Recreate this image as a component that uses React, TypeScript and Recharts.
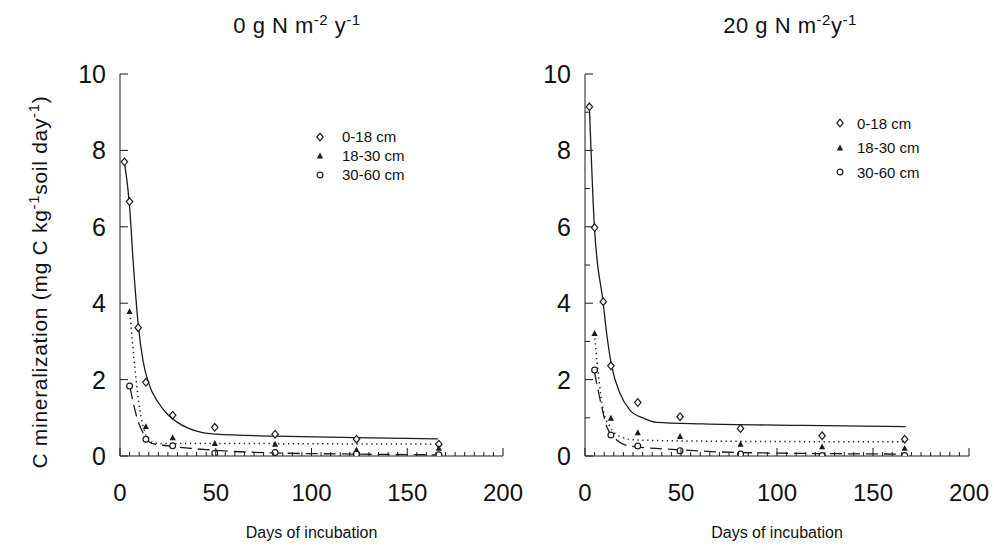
import React from "react";
import { ComposedChart, Line, Scatter, XAxis, YAxis, Legend } from "recharts";

const FONT = "'Liberation Sans', Arial, Helvetica, sans-serif";
const INK = "#1b1b1b";

// depth classes (legend order)
const depthNames = ["0-18 cm", "18-30 cm", "30-60 cm"];

// sampling days (diamonds have two extra early samples)
const daysTop = [2.3, 5, 9.5, 13.5, 27.5, 49.5, 81, 123.5, 166.5];
const daysDeep = [5, 13.5, 27.5, 49.5, 81, 123.5, 166.5];

// 0 g N m-2 y-1
const n0Top = [7.7, 6.66, 3.36, 1.93, 1.07, 0.75, 0.57, 0.44, 0.31];
const n0Mid = [3.78, 0.77, 0.48, 0.33, 0.31, 0.16, 0.2];
const n0Low = [1.83, 0.44, 0.27, 0.07, 0.09, 0.05, 0.03];

// 20 g N m-2 y-1
const n20Top = [9.14, 5.98, 4.04, 2.36, 1.4, 1.03, 0.72, 0.53, 0.44];
const n20Mid = [3.21, 0.99, 0.61, 0.51, 0.31, 0.24, 0.2];
const n20Low = [2.25, 0.55, 0.26, 0.14, 0.05, 0.01, 0.01];

// fitted curves as [day, value]
const n0TopFit = [[2.3, 7.7], [4.9, 6.6], [7, 5.0], [9.6, 3.4], [12, 2.5], [15, 1.9], [20, 1.4], [25, 1.08], [30, 0.88], [40, 0.65], [50, 0.57], [81, 0.52], [123, 0.48], [166, 0.45]];
const n0MidFit = [[5.2, 3.75], [7.8, 2.3], [10.4, 1.2], [13, 0.62], [15.7, 0.38], [20, 0.33], [50, 0.33], [100, 0.32], [166, 0.31]];
const n0LowFit = [[5.2, 1.8], [8.7, 1.03], [12.2, 0.59], [16.5, 0.33], [26, 0.26], [49, 0.15], [81, 0.08], [123, 0.05], [166, 0.03]];

const n20TopFit = [[2.3, 9.14], [4.9, 6.0], [9.5, 4.0], [11.3, 3.2], [13.9, 2.35], [18.2, 1.64], [23.4, 1.2], [30.4, 0.99], [37.3, 0.88], [61.5, 0.84], [113.7, 0.8], [167, 0.77]];
const n20MidFit = [[4.9, 3.21], [6.9, 2.16], [9.5, 1.2], [13, 0.77], [18.2, 0.51], [27, 0.42], [60, 0.39], [167, 0.37]];
const n20LowFit = [[4.9, 2.2], [8.7, 1.29], [11.3, 0.77], [16.5, 0.42], [23.4, 0.26], [50, 0.16], [81, 0.09], [167, 0.05]];

const xLabels = [0, 50, 100, 150, 200];
const yLabels = [0, 2, 4, 6, 8, 10];
const xTicks = Array.from({ length: 41 }, (_, i) => i * 5);
const yTicksFine = Array.from({ length: 11 }, (_, i) => i);

const toPts = (days: number[], vals: number[]) => vals.map((v, i) => ({ x: days[i], y: v }));
const fitPts = (f: number[][]) => f.map(([x, y]) => ({ x, y }));

const lineStyles = [
  { dash: undefined, width: 1.3 },
  { dash: "1.3 3.6", width: 1.5 },
  { dash: "12 6", width: 1.3 },
];

const Marker = ({ kind, cx, cy }: { kind: number; cx: number; cy: number }) => {
  if (kind === 0)
    return <path d={`M${cx},${cy - 3.8}L${cx + 3.2},${cy}L${cx},${cy + 3.8}L${cx - 3.2},${cy}Z`} fill="#fff" stroke={INK} strokeWidth={1.2} />;
  if (kind === 1)
    return <path d={`M${cx},${cy - 3.4}L${cx + 3.1},${cy + 2.5}L${cx - 3.1},${cy + 2.5}Z`} fill={INK} />;
  return <circle cx={cx} cy={cy} r={2.9} fill="#fff" stroke={INK} strokeWidth={1.2} />;
};

const BottomTick = (p: any) => {
  const major = xLabels.includes(p.payload.value);
  return (
    <g>
      <line x1={p.x} x2={p.x} y1={p.y} y2={p.y - (major ? 8 : 4)} stroke={INK} />
      {major && (
        <text x={p.x} y={p.y + 36} textAnchor="middle" dominantBaseline="central" fontSize={24} fill="#111" fontFamily={FONT}>
          {p.payload.value}
        </text>
      )}
    </g>
  );
};

const TopTick = (p: any) => {
  const major = xLabels.includes(p.payload.value);
  return <line x1={p.x} x2={p.x} y1={p.y} y2={p.y + (major ? 8 : 4)} stroke={INK} />;
};

const LeftTick = (p: any) => {
  const major = yLabels.includes(p.payload.value);
  return (
    <g>
      <line x1={p.x} x2={p.x + (major ? 8 : 5)} y1={p.y} y2={p.y} stroke={INK} />
      {major && (
        <text x={p.x - 14} y={p.y} textAnchor="end" dominantBaseline="central" fontSize={25} fill="#111" fontFamily={FONT}>
          {p.payload.value}
        </text>
      )}
    </g>
  );
};

const RightTick = (p: any) => {
  const major = yLabels.includes(p.payload.value);
  return <line x1={p.x} x2={p.x - (major ? 8 : 5)} y1={p.y} y2={p.y} stroke={INK} />;
};

const YLabel = () => (
  <text transform="translate(47,282) rotate(-90)" textAnchor="middle" fontSize={21} letterSpacing={0.7} fill="#111" fontFamily={FONT}>
    C mineralization (mg C kg
    <tspan dy={-8} fontSize={15}>-1</tspan>
    <tspan dy={8}>soil day</tspan>
    <tspan dy={-8} fontSize={15}>-1</tspan>
    <tspan dy={8}>)</tspan>
  </text>
);

const DepthLegend = ({ rowH, textGap }: { rowH: number; textGap: number }) => (
  <div style={{ fontFamily: FONT, fontSize: 15, color: "#111" }}>
    {depthNames.map((name, i) => (
      <div key={name} style={{ height: rowH, display: "flex", alignItems: "center", whiteSpace: "nowrap" }}>
        <svg width={12} height={12} style={{ flex: "none" }}>
          <Marker kind={i} cx={6} cy={6} />
        </svg>
        <span style={{ marginLeft: textGap - 6 }}>{name}</span>
      </div>
    ))}
  </div>
);

type PanelProps = {
  left: number;
  width: number;
  marginRight: number;
  series: { x: number; y: number }[][];
  fits: { x: number; y: number }[][];
  yTicks: number[];
  rightTicks: number[];
  legendAt: { left: number; top: number; rowH: number; textGap: number };
  withYLabel: boolean;
};

const Panel = ({ left, width, marginRight, series, fits, yTicks, rightTicks, legendAt, withYLabel }: PanelProps) => (
  <div style={{ position: "absolute", left, top: 0 }}>
    <ComposedChart width={width} height={550} margin={{ top: 74, right: marginRight, bottom: 0, left: 0 }}>
      <XAxis
        dataKey="x"
        type="number"
        domain={[0, 200]}
        allowDataOverflow
        ticks={xTicks}
        interval={0}
        height={94}
        tickSize={0}
        tickMargin={0}
        tickLine={false}
        tick={BottomTick}
        axisLine={{ stroke: INK }}
        label={{ value: "Days of incubation", position: "insideBottom", offset: 12, fontSize: 16, fill: "#111", fontFamily: FONT }}
      />
      <XAxis
        xAxisId="top"
        orientation="top"
        type="number"
        domain={[0, 200]}
        allowDataOverflow
        ticks={xTicks}
        interval={0}
        height={0}
        tickSize={0}
        tickMargin={0}
        tickLine={false}
        tick={TopTick}
        axisLine={{ stroke: INK }}
      />
      <YAxis
        type="number"
        domain={[0, 10]}
        allowDataOverflow
        ticks={yTicks}
        interval={0}
        width={120}
        tickSize={0}
        tickMargin={0}
        tickLine={false}
        tick={LeftTick}
        axisLine={{ stroke: INK }}
        label={withYLabel ? { content: YLabel } : undefined}
      />
      <YAxis
        yAxisId="r"
        orientation="right"
        type="number"
        domain={[0, 10]}
        allowDataOverflow
        ticks={rightTicks}
        interval={0}
        width={0}
        tickSize={0}
        tickMargin={0}
        tickLine={false}
        tick={RightTick}
        axisLine={{ stroke: INK }}
      />
      {fits.map((f, i) => (
        <Line
          key={"fit" + i}
          data={f}
          dataKey="y"
          type="monotone"
          stroke={INK}
          strokeWidth={lineStyles[i].width}
          strokeDasharray={lineStyles[i].dash}
          dot={false}
          activeDot={false}
          isAnimationActive={false}
          legendType="none"
        />
      ))}
      {series.map((s, i) => (
        <Scatter
          key={"pts" + i}
          name={depthNames[i]}
          data={s}
          dataKey="y"
          isAnimationActive={false}
          shape={(p: any) => <Marker kind={i} cx={p.cx} cy={p.cy} />}
        />
      ))}
      <Legend
        layout="vertical"
        align="center"
        verticalAlign="middle"
        wrapperStyle={{ left: legendAt.left, top: legendAt.top, width: "auto" }}
        content={() => <DepthLegend rowH={legendAt.rowH} textGap={legendAt.textGap} />}
      />
    </ComposedChart>
  </div>
);

const Title = ({ x, children }: { x: number; children: React.ReactNode }) => (
  <div
    style={{
      position: "absolute",
      left: x,
      top: 14,
      transform: "translateX(-50%)",
      fontFamily: FONT,
      fontSize: 22,
      letterSpacing: 0.5,
      lineHeight: "24px",
      color: "#111",
      whiteSpace: "nowrap",
    }}
  >
    {children}
  </div>
);

const sup = { fontSize: 15, verticalAlign: "8px", lineHeight: 0 } as React.CSSProperties;

export default function App() {
  return (
    <div style={{ position: "absolute", left: 0, top: 0, width: 994, height: 550, background: "#fff" }}>
      <Title x={297}>
        0 g N m<span style={sup}>-2</span> y<span style={sup}>-1</span>
      </Title>
      <Title x={790}>
        20 g N m<span style={sup}>-2</span>y<span style={sup}>-1</span>
      </Title>
      <Panel
        left={0}
        width={540}
        marginRight={37}
        series={[toPts(daysTop, n0Top), toPts(daysDeep, n0Mid), toPts(daysDeep, n0Low)]}
        fits={[fitPts(n0TopFit), fitPts(n0MidFit), fitPts(n0LowFit)]}
        yTicks={yLabels}
        rightTicks={yLabels}
        legendAt={{ left: 314, top: 127, rowH: 19, textGap: 22 }}
        withYLabel
      />
      <Panel
        left={465}
        width={529}
        marginRight={25}
        series={[toPts(daysTop, n20Top), toPts(daysDeep, n20Mid), toPts(daysDeep, n20Low)]}
        fits={[fitPts(n20TopFit), fitPts(n20MidFit), fitPts(n20LowFit)]}
        yTicks={yTicksFine}
        rightTicks={yTicksFine}
        legendAt={{ left: 369, top: 111, rowH: 24.5, textGap: 17 }}
        withYLabel={false}
      />
    </div>
  );
}
